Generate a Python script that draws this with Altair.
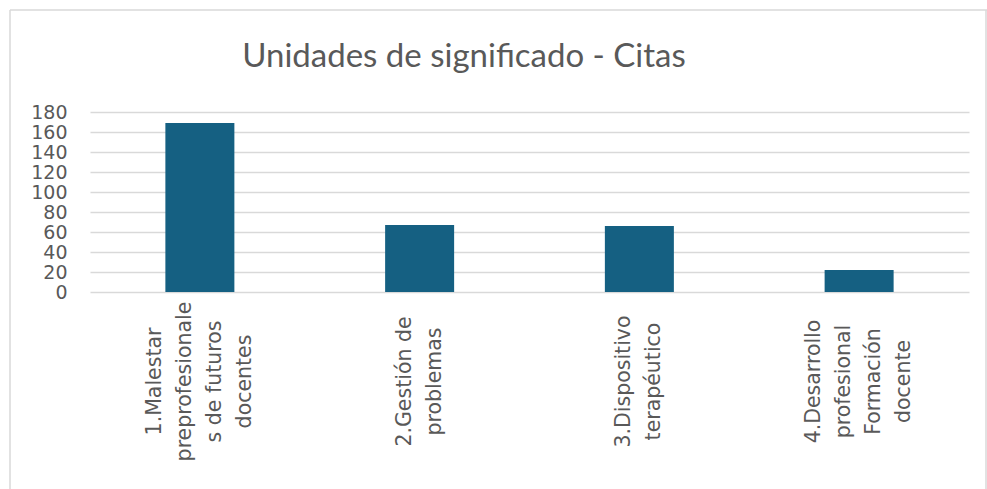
import altair as alt
import pandas as pd

categories = [
    "1.Malestar\npreprofesionale\ns de futuros\ndocentes",
    "2.Gestión de\nproblemas",
    "3.Dispositivo\nterapéutico",
    "4.Desarrollo\nprofesional\nFormación\ndocente",
]
values = [169, 67, 66, 22]
y_ticks = [0, 20, 40, 60, 80, 100, 120, 140, 160, 180]
title_text = "Unidades de significado - Citas"

df = pd.DataFrame({"cat": categories, "val": values})

GRID = "#d9d9d9"
TEXT = "#595959"

bars = alt.Chart(df).mark_bar(color="#156082").encode(
    x=alt.X(
        "cat:N",
        sort=categories,
        scale=alt.Scale(paddingInner=0.686, paddingOuter=0.343),
        axis=alt.Axis(
            title=None,
            labelAngle=270,
            labelAlign="center",
            labelBaseline="middle",
            labelPadding=89,
            labelLineHeight=30,
            labelFontSize=20.5,
            labelFont="DejaVu Sans",
            labelColor=TEXT,
            labelExpr="split(datum.label, '\\n')",
            labelOffset={
                "condition": {
                    "test": "length(split(datum.label, '\\n')) > 2",
                    "value": -45,
                },
                "value": -15,
            },
            ticks=False,
            domain=False,
            grid=False,
            labelLimit=400,
        ),
    ),
    y=alt.Y(
        "val:Q",
        scale=alt.Scale(domain=[0, 180], nice=False),
        axis=alt.Axis(
            title=None,
            values=y_ticks,
            labelFontSize=19,
            labelFont="DejaVu Sans",
            labelColor=TEXT,
            labelPadding=23,
            ticks=False,
            domain=False,
            gridColor=GRID,
            gridWidth=1.3,
        ),
    ),
)

frame_data = alt.Data(values=[{"k": 1}])
left_frame = alt.Chart(frame_data).mark_rule(color=GRID, strokeWidth=1.5).encode(
    x=alt.value(-80), y=alt.value(-102), y2=alt.value(400)
)
top_frame = alt.Chart(frame_data).mark_rule(color=GRID, strokeWidth=1.5).encode(
    x=alt.value(-80), x2=alt.value(900), y=alt.value(-102)
)
right_frame = alt.Chart(frame_data).mark_rule(color=GRID, strokeWidth=1.5).encode(
    x=alt.value(896), y=alt.value(-102), y2=alt.value(400)
)
title_mark = alt.Chart(frame_data).mark_text(
    fontSize=33, font="Lato", color=TEXT, align="center", baseline="alphabetic"
).encode(
    x=alt.value(374), y=alt.value(-45), text=alt.value(title_text)
)

chart = (
    alt.layer(left_frame, top_frame, right_frame, title_mark, bars)
    .properties(
        width=879,
        height=180,
        autosize=alt.AutoSizeParams(type="none"),
        padding={"left": 90, "top": 112, "right": 18, "bottom": 197},
        background="white",
    )
    .configure_view(stroke=None)
)

chart.save("out.html", embed_options={"renderer": "svg", "actions": False})
